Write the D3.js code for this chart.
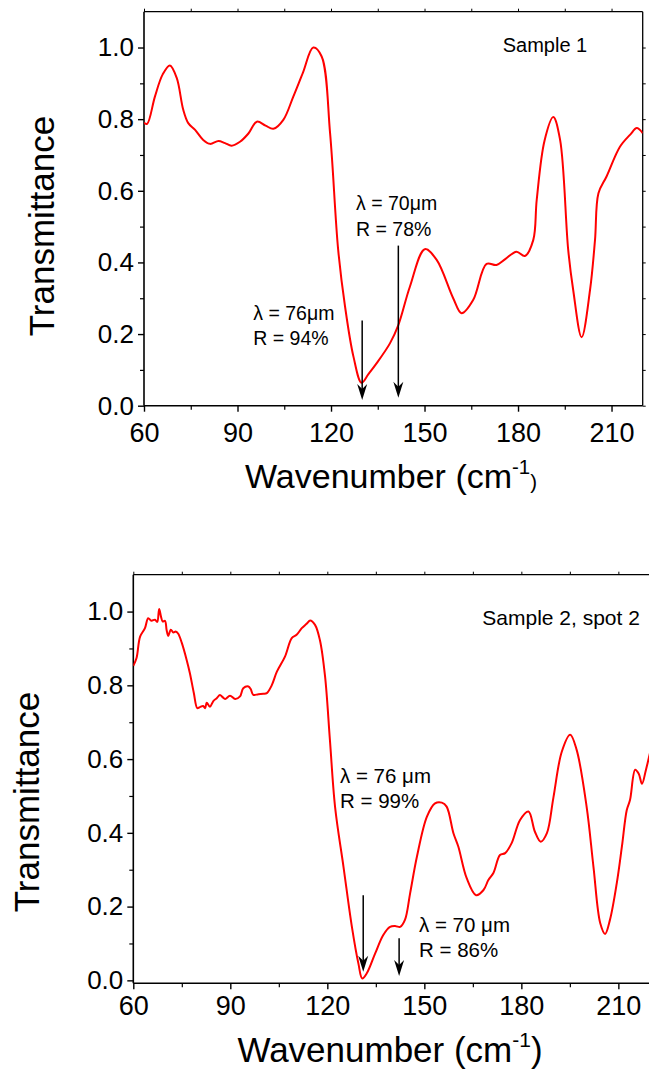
<!DOCTYPE html>
<html><head><meta charset="utf-8">
<script src="https://cdn.jsdelivr.net/npm/d3@7"></script>
<style>
html,body{margin:0;padding:0;background:#fff;}
svg{display:block;}
text{font-family:"Liberation Sans",Arial,sans-serif;fill:#000;}
</style></head>
<body>
<svg id="chart" width="649" height="1076"></svg>
<script>
// ---- data ----
const xTicks = [60, 90, 120, 150, 180, 210];
const xMinor = [75, 105, 135, 165, 195];
const yTicks = [0.0, 0.2, 0.4, 0.6, 0.8, 1.0];
const yMinor = [0.1, 0.3, 0.5, 0.7, 0.9];
const yTickLabels = ["0.0", "0.2", "0.4", "0.6", "0.8", "1.0"];

const s1Wavenumber = [60, 61, 63.5, 66, 68.3, 70.5, 72.6, 74.2, 76.4, 79, 81.2, 83.9, 86, 88.1, 90.8, 93.5, 96.2, 99, 101.5, 104.7, 107.9, 111, 114.3, 117, 119.7, 122.3, 124.5, 127.2, 129.8, 132, 134.6, 138.9, 141.6, 145.3, 150.1, 153.9, 159.2, 161.9, 165.6, 169.9, 173.1, 176, 179.5, 182.2, 184.9, 186, 188.5, 191.3, 193.5, 196.1, 197.7, 200.4, 203.1, 204.7, 205.8, 208.4, 212.7, 216, 218.1, 220];
const s1Transmittance = [0.79, 0.787, 0.863, 0.925, 0.95, 0.915, 0.826, 0.789, 0.77, 0.742, 0.731, 0.739, 0.733, 0.726, 0.737, 0.76, 0.793, 0.782, 0.773, 0.798, 0.863, 0.93, 1.0, 0.975, 0.761, 0.435, 0.277, 0.137, 0.064, 0.088, 0.118, 0.174, 0.225, 0.332, 0.437, 0.407, 0.3, 0.258, 0.295, 0.396, 0.393, 0.41, 0.43, 0.418, 0.463, 0.575, 0.74, 0.806, 0.742, 0.435, 0.323, 0.191, 0.323, 0.463, 0.593, 0.64, 0.723, 0.757, 0.775, 0.761];

const s2Wavenumber = [60, 61, 62.1, 63.6, 64.6, 65.6, 66.7, 67.4, 68, 68.6, 69.1, 69.8, 70.3, 70.8, 71.6, 72.4, 73.1, 73.9, 75, 76.5, 77.5, 78.7, 79.8, 80.6, 81.6, 82.2, 82.7, 83.7, 84.8, 85.8, 86.8, 87.6, 88.4, 89.9, 91.5, 93, 94, 95.6, 96.3, 97.1, 98.7, 100.2, 101.3, 102.8, 104.4, 106.9, 109, 110.5, 112.1, 113.6, 114.7, 116.2, 117.7, 119.3, 120.8, 122.4, 125, 127.6, 129.6, 130.8, 132.2, 134.8, 137.3, 139.4, 141.2, 142.5, 144, 145.6, 147.7, 150.8, 153.3, 155.4, 156.9, 159, 160.5, 163.1, 166, 168.3, 169.8, 171.4, 173.4, 175, 177, 179.6, 182.2, 184.2, 186, 187.9, 189.9, 192.5, 195.1, 197.1, 200.2, 202.3, 204.4, 205.9, 207.4, 209.5, 211.1, 212.6, 213.6, 215.2, 216.3, 217.3, 218.5, 220];
const s2Transmittance = [0.853, 0.874, 0.932, 0.955, 0.982, 0.975, 0.978, 0.972, 1.007, 0.985, 0.973, 0.975, 0.95, 0.934, 0.951, 0.943, 0.946, 0.94, 0.915, 0.869, 0.833, 0.78, 0.738, 0.741, 0.744, 0.738, 0.753, 0.742, 0.758, 0.765, 0.774, 0.768, 0.763, 0.772, 0.763, 0.77, 0.792, 0.797, 0.79, 0.774, 0.776, 0.777, 0.779, 0.8, 0.837, 0.878, 0.928, 0.937, 0.955, 0.967, 0.976, 0.964, 0.923, 0.824, 0.652, 0.47, 0.308, 0.145, 0.046, 0.005, 0.019, 0.073, 0.123, 0.145, 0.147, 0.145, 0.164, 0.236, 0.335, 0.444, 0.48, 0.482, 0.471, 0.399, 0.363, 0.277, 0.231, 0.245, 0.272, 0.292, 0.34, 0.345, 0.372, 0.435, 0.458, 0.403, 0.376, 0.399, 0.495, 0.62, 0.666, 0.625, 0.47, 0.308, 0.155, 0.126, 0.164, 0.263, 0.363, 0.462, 0.489, 0.571, 0.56, 0.533, 0.57, 0.625];

// arrows: [wavenumber, start transmittance, tip transmittance]
const s1Arrows = [[130.0, 0.238, 0.016], [141.6, 0.447, 0.022]];
const s2Arrows = [[131.1, 0.231, 0.023], [142.2, 0.114, 0.012]];

const svg = d3.select("#chart");

function panel(cfg) {
  const x = d3.scaleLinear().domain([60, 220]).range([cfg.left, cfg.right]);
  const y = d3.scaleLinear().domain(cfg.yDomain).range([cfg.bottom, cfg.top]);
  const g = svg.append("g");

  // frame lines
  g.append("line").attr("x1", cfg.left).attr("x2", cfg.right).attr("y1", cfg.bottom).attr("y2", cfg.bottom)
    .attr("stroke", "#000").attr("stroke-width", 1.6);
  g.append("line").attr("x1", cfg.left).attr("x2", cfg.left).attr("y1", cfg.top).attr("y2", cfg.bottom)
    .attr("stroke", "#000").attr("stroke-width", 1.6);
  g.append("line").attr("x1", cfg.left).attr("x2", cfg.right).attr("y1", cfg.top).attr("y2", cfg.top)
    .attr("stroke", "#000").attr("stroke-width", 1.3);
  g.append("line").attr("x1", cfg.right).attr("x2", cfg.right).attr("y1", cfg.top).attr("y2", cfg.bottom)
    .attr("stroke", "#000").attr("stroke-width", 1.3);

  // bottom axis
  const xa = d3.axisBottom(x).tickValues(xTicks).tickSize(6).tickPadding(cfg.xPad).tickFormat(d3.format("d"));
  const gx = g.append("g").attr("transform", `translate(0,${cfg.bottom})`).call(xa);
  gx.select(".domain").remove();
  gx.selectAll(".tick line").attr("stroke-width", 1.4);
  gx.selectAll(".tick text").attr("font-size", cfg.xTickFont).attr("font-family", "Liberation Sans, Arial, sans-serif")
    .attr("dy", "0.75em");
  const xm = d3.axisBottom(x).tickValues(xMinor).tickSize(4).tickFormat("");
  const gxm = g.append("g").attr("transform", `translate(0,${cfg.bottom})`).call(xm);
  gxm.select(".domain").remove();
  gxm.selectAll(".tick line").attr("stroke-width", 1.2);

  // left axis
  const ya = d3.axisLeft(y).tickValues(yTicks).tickSize(6).tickPadding(4).tickFormat((d, i) => yTickLabels[i]);
  const gy = g.append("g").attr("transform", `translate(${cfg.left},0)`).call(ya);
  gy.select(".domain").remove();
  gy.selectAll(".tick line").attr("stroke-width", 1.4);
  gy.selectAll(".tick text").attr("font-size", cfg.yTickFont).attr("font-family", "Liberation Sans, Arial, sans-serif");
  const ym = d3.axisLeft(y).tickValues(yMinor).tickSize(4).tickFormat("");
  const gym = g.append("g").attr("transform", `translate(${cfg.left},0)`).call(ym);
  gym.select(".domain").remove();
  gym.selectAll(".tick line").attr("stroke-width", 1.2);

  // mirrored ticks top/right
  const xt = d3.axisTop(x).tickValues(xTicks.concat(xMinor)).tickSize(3).tickFormat("");
  const gxt = g.append("g").attr("transform", `translate(0,${cfg.top})`).call(xt);
  gxt.select(".domain").remove();
  if (cfg.showRight) {
    const yr = d3.axisRight(y).tickValues(yTicks.concat(yMinor)).tickSize(3).tickFormat("");
    const gyr = g.append("g").attr("transform", `translate(${cfg.right},0)`).call(yr);
    gyr.select(".domain").remove();
  }

  // clip
  const clipId = "clip" + cfg.id;
  svg.append("clipPath").attr("id", clipId).append("rect")
    .attr("x", cfg.left).attr("y", cfg.top).attr("width", cfg.right - cfg.left).attr("height", cfg.bottom - cfg.top);

  const data = cfg.xs.map((v, i) => [v, cfg.ys[i]]);
  const line = d3.line().x(d => x(d[0])).y(d => y(d[1])).curve(cfg.curve);
  g.append("path").datum(data).attr("d", line).attr("fill", "none")
    .attr("stroke", "#ff0000").attr("stroke-width", 2).attr("stroke-linejoin", "round")
    .attr("clip-path", `url(#${clipId})`);

  // arrows
  cfg.arrows.forEach(a => {
    const ax = x(a[0]), y0 = y(a[1]), y1 = y(a[2]);
    g.append("line").attr("x1", ax).attr("x2", ax).attr("y1", y0).attr("y2", y1 - 6)
      .attr("stroke", "#000").attr("stroke-width", 1.5);
    g.append("path").attr("d", `M${ax},${y1} L${ax - 5},${y1 - 16} L${ax},${y1 - 11} L${ax + 5},${y1 - 16} Z`)
      .attr("fill", "#000");
  });

  // y title
  g.append("text").attr("transform", `translate(${cfg.yTitleX},${cfg.yTitleY}) rotate(-90)`)
    .attr("text-anchor", "middle").attr("font-size", cfg.yTitleFont).text("Transmittance");

  // x title
  const f = cfg.xTitleFont;
  const xt2 = g.append("text").attr("x", cfg.xTitleX).attr("y", cfg.xTitleY).attr("text-anchor", "middle")
    .attr("font-size", f);
  xt2.append("tspan").text("Wavenumber (cm");
  xt2.append("tspan").attr("font-size", f * 0.6).attr("dy", -f * 0.42).text("-1");
  if (cfg.smallParen) {
    xt2.append("tspan").attr("font-size", f * 0.6).attr("dy", f * 0.46).text(")");
  } else {
    xt2.append("tspan").attr("dy", f * 0.42).text(")");
  }

  // labels
  cfg.labels.forEach(l => {
    g.append("text").attr("x", l[0]).attr("y", l[1]).attr("font-size", l[3]).text(l[2]);
  });
}

panel({
  id: 1, left: 144, right: 642.7, top: 11.7, bottom: 405.7, yDomain: [0, 1.1],
  xs: s1Wavenumber, ys: s1Transmittance, curve: d3.curveCatmullRom.alpha(0.5),
  arrows: s1Arrows, xTickFont: 27, yTickFont: 26, xPad: 10, yTitleFont: 35, xTitleFont: 34, showRight: true,
  yTitleX: 54, yTitleY: 226, xTitleX: 391, xTitleY: 488, smallParen: true,
  labels: [[502.7, 51.7, "Sample 1", 20], [356, 210, "λ = 70μm", 19.5], [356, 235.7, "R = 78%", 19.5],
           [253.3, 320, "λ = 76μm", 19.5], [253.3, 345, "R = 94%", 19.5]]
});

panel({
  id: 2, left: 133.3, right: 650.7, top: 574.7, bottom: 983.3, yDomain: [-0.008, 1.1],
  xs: s2Wavenumber, ys: s2Transmittance, curve: d3.curveCatmullRom.alpha(0.5),
  arrows: s2Arrows, xTickFont: 27, yTickFont: 26, xPad: 5, yTitleFont: 35, xTitleFont: 35, showRight: false,
  yTitleX: 39, yTitleY: 802, xTitleX: 390, xTitleY: 1062, smallParen: false,
  labels: [[482.3, 625, "Sample 2, spot 2", 21], [340, 783, "λ = 76 μm", 20.5], [340, 808, "R = 99%", 20.5],
           [419, 932, "λ = 70 μm", 20.5], [419, 957, "R = 86%", 20.5]]
});
</script>
</body></html>
